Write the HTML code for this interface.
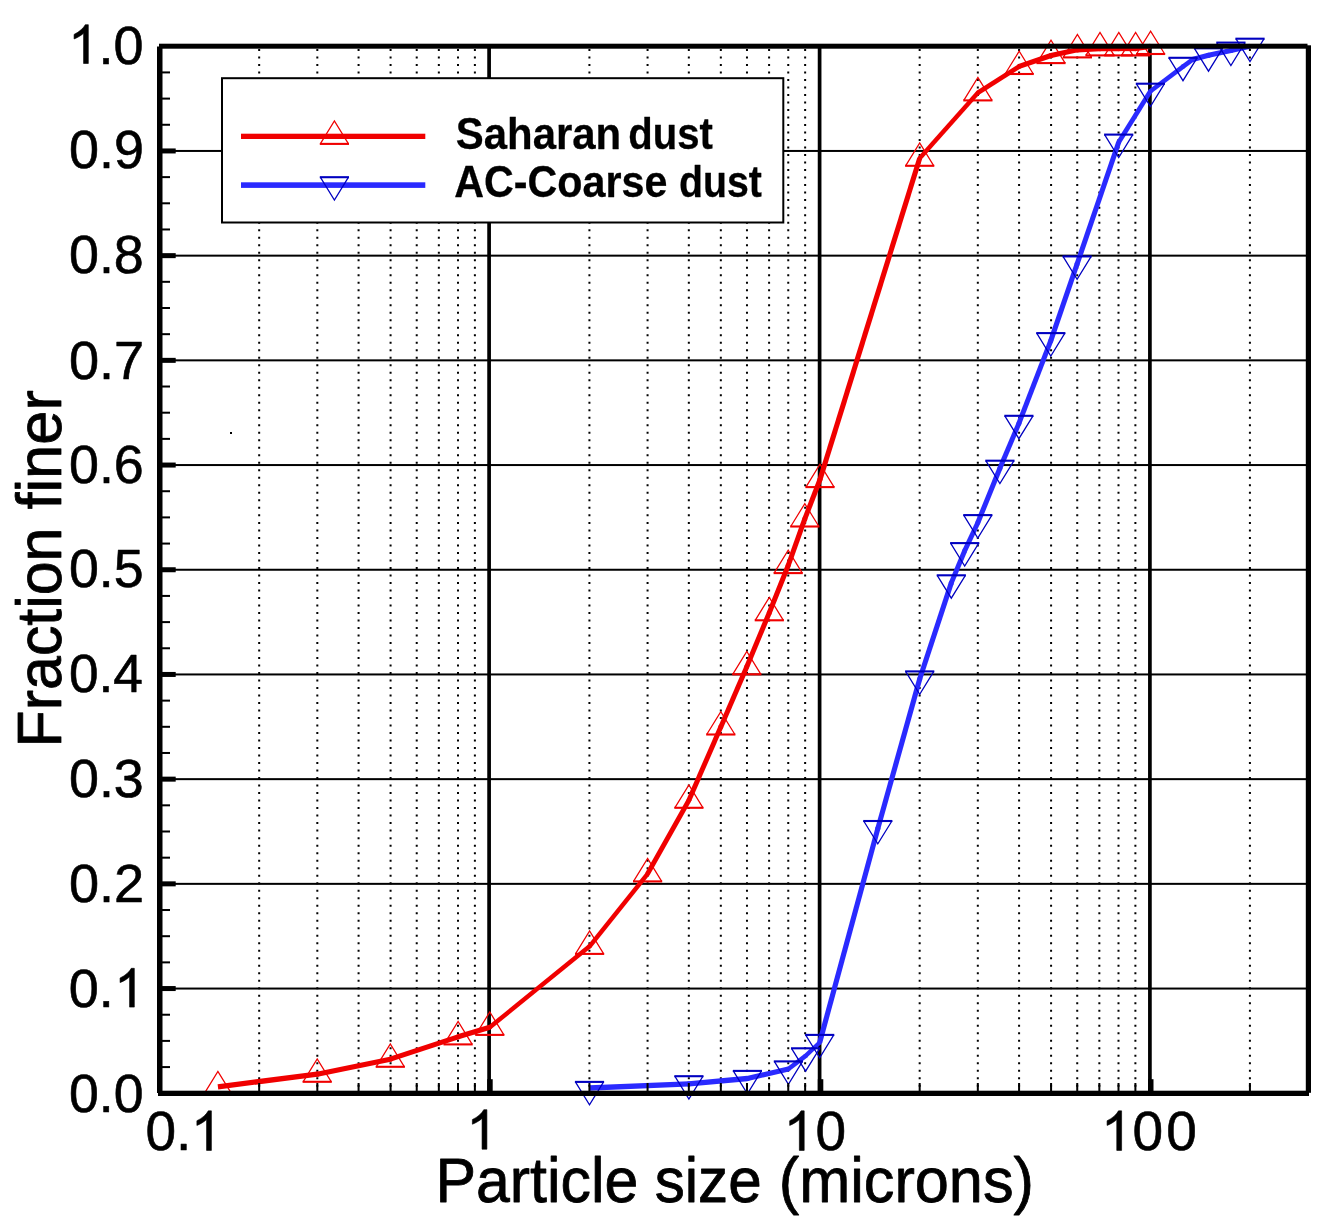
<!DOCTYPE html>
<html><head><meta charset="utf-8"><title>Particle size distribution</title>
<style>html,body{margin:0;padding:0;background:#fff;}svg{display:block;filter:blur(0.45px);}</style>
</head><body>
<svg width="1323" height="1225" viewBox="0 0 1323 1225">
<rect width="1323" height="1225" fill="#fff"/>
<g fill="#000">
<rect x="162" y="987.55" width="1145" height="2"/>
<rect x="162" y="882.85" width="1145" height="2"/>
<rect x="162" y="778.15" width="1145" height="2"/>
<rect x="162" y="673.45" width="1145" height="2"/>
<rect x="162" y="568.75" width="1145" height="2"/>
<rect x="162" y="464.05" width="1145" height="2"/>
<rect x="162" y="359.35" width="1145" height="2"/>
<rect x="162" y="254.65" width="1145" height="2"/>
<rect x="162" y="149.95" width="1145" height="2"/>
</g>
<g stroke="#000" stroke-width="2" stroke-dasharray="2 5.506">
<line x1="259.17" y1="49" x2="259.17" y2="1091"/>
<line x1="317.32" y1="49" x2="317.32" y2="1091"/>
<line x1="358.58" y1="49" x2="358.58" y2="1091"/>
<line x1="390.58" y1="49" x2="390.58" y2="1091"/>
<line x1="416.73" y1="49" x2="416.73" y2="1091"/>
<line x1="438.84" y1="49" x2="438.84" y2="1091"/>
<line x1="458.00" y1="49" x2="458.00" y2="1091"/>
<line x1="474.89" y1="49" x2="474.89" y2="1091"/>
<line x1="589.42" y1="49" x2="589.42" y2="1091"/>
<line x1="647.57" y1="49" x2="647.57" y2="1091"/>
<line x1="688.83" y1="49" x2="688.83" y2="1091"/>
<line x1="720.83" y1="49" x2="720.83" y2="1091"/>
<line x1="746.98" y1="49" x2="746.98" y2="1091"/>
<line x1="769.09" y1="49" x2="769.09" y2="1091"/>
<line x1="788.25" y1="49" x2="788.25" y2="1091"/>
<line x1="805.14" y1="49" x2="805.14" y2="1091"/>
<line x1="919.67" y1="49" x2="919.67" y2="1091"/>
<line x1="977.82" y1="49" x2="977.82" y2="1091"/>
<line x1="1019.08" y1="49" x2="1019.08" y2="1091"/>
<line x1="1051.08" y1="49" x2="1051.08" y2="1091"/>
<line x1="1077.23" y1="49" x2="1077.23" y2="1091"/>
<line x1="1099.34" y1="49" x2="1099.34" y2="1091"/>
<line x1="1118.50" y1="49" x2="1118.50" y2="1091"/>
<line x1="1135.39" y1="49" x2="1135.39" y2="1091"/>
<line x1="1249.92" y1="49" x2="1249.92" y2="1091"/>
</g>
<rect x="487.25" y="47" width="3.7" height="1045" fill="#000"/>
<rect x="817.75" y="47" width="3.7" height="1045" fill="#000"/>
<rect x="1148.05" y="47" width="3.7" height="1045" fill="#000"/>
<g stroke="#f00000" fill="#f00000"><line x1="217.9" y1="1086.8" x2="317.2" y2="1074.2" stroke-width="5.27"/><line x1="317.2" y1="1074.2" x2="390.3" y2="1059.2" stroke-width="5.22"/><line x1="390.3" y1="1059.2" x2="458.1" y2="1036.8" stroke-width="5.10"/><line x1="458.1" y1="1036.8" x2="489.8" y2="1027.3" stroke-width="5.14"/><line x1="489.8" y1="1027.3" x2="589.6" y2="946.3" stroke-width="4.51"/><line x1="589.6" y1="946.3" x2="647.6" y2="873.8" stroke-width="4.52"/><line x1="647.6" y1="873.8" x2="688.9" y2="800.2" stroke-width="4.82"/><line x1="688.9" y1="800.2" x2="720.8" y2="726.9" stroke-width="4.98"/><line x1="720.8" y1="726.9" x2="746.8" y2="666.7" stroke-width="4.99"/><line x1="746.8" y1="666.7" x2="769.3" y2="612.7" stroke-width="5.00"/><line x1="769.3" y1="612.7" x2="788.2" y2="565.5" stroke-width="5.02"/><line x1="788.2" y1="565.5" x2="804.8" y2="518.9" stroke-width="5.07"/><line x1="804.8" y1="518.9" x2="820.0" y2="479.5" stroke-width="5.04"/><line x1="820.0" y1="479.5" x2="919.7" y2="158.2" stroke-width="5.12"/><line x1="919.7" y1="158.2" x2="977.9" y2="92.8" stroke-width="4.42"/><line x1="977.9" y1="92.8" x2="1019.2" y2="66.4" stroke-width="4.72"/><line x1="1019.2" y1="66.4" x2="1051.0" y2="55.5" stroke-width="5.09"/><line x1="1051.0" y1="55.5" x2="1077.4" y2="49.8" stroke-width="5.21"/><line x1="1077.4" y1="49.8" x2="1100.0" y2="48.6" stroke-width="5.29"/><line x1="1100.0" y1="48.6" x2="1118.8" y2="48.5" stroke-width="5.30"/><line x1="1118.8" y1="48.5" x2="1135.6" y2="48.5" stroke-width="5.30"/><line x1="1135.6" y1="48.5" x2="1150.6" y2="46.4" stroke-width="5.26"/><circle cx="317.2" cy="1074.2" r="2.61" stroke="none"/><circle cx="390.3" cy="1059.2" r="2.55" stroke="none"/><circle cx="458.1" cy="1036.8" r="2.55" stroke="none"/><circle cx="489.8" cy="1027.3" r="2.25" stroke="none"/><circle cx="589.6" cy="946.3" r="2.25" stroke="none"/><circle cx="647.6" cy="873.8" r="2.26" stroke="none"/><circle cx="688.9" cy="800.2" r="2.41" stroke="none"/><circle cx="720.8" cy="726.9" r="2.49" stroke="none"/><circle cx="746.8" cy="666.7" r="2.49" stroke="none"/><circle cx="769.3" cy="612.7" r="2.50" stroke="none"/><circle cx="788.2" cy="565.5" r="2.51" stroke="none"/><circle cx="804.8" cy="518.9" r="2.52" stroke="none"/><circle cx="820.0" cy="479.5" r="2.52" stroke="none"/><circle cx="919.7" cy="158.2" r="2.21" stroke="none"/><circle cx="977.9" cy="92.8" r="2.21" stroke="none"/><circle cx="1019.2" cy="66.4" r="2.36" stroke="none"/><circle cx="1051.0" cy="55.5" r="2.54" stroke="none"/><circle cx="1077.4" cy="49.8" r="2.61" stroke="none"/><circle cx="1100.0" cy="48.6" r="2.65" stroke="none"/><circle cx="1118.8" cy="48.5" r="2.65" stroke="none"/><circle cx="1135.6" cy="48.5" r="2.63" stroke="none"/></g>
<g stroke="#2a2aff" fill="#2a2aff"><line x1="589.5" y1="1088.0" x2="688.9" y2="1083.8" stroke-width="5.30"/><line x1="688.9" y1="1083.8" x2="747.4" y2="1078.5" stroke-width="5.28"/><line x1="747.4" y1="1078.5" x2="788.4" y2="1069.0" stroke-width="5.20"/><line x1="788.4" y1="1069.0" x2="805.6" y2="1055.9" stroke-width="4.57"/><line x1="805.6" y1="1055.9" x2="819.7" y2="1042.5" stroke-width="4.35"/><line x1="819.7" y1="1042.5" x2="877.8" y2="828.6" stroke-width="5.16"/><line x1="877.8" y1="828.6" x2="919.7" y2="679.0" stroke-width="5.15"/><line x1="919.7" y1="679.0" x2="951.3" y2="582.9" stroke-width="5.10"/><line x1="951.3" y1="582.9" x2="964.7" y2="550.7" stroke-width="5.00"/><line x1="964.7" y1="550.7" x2="977.8" y2="522.7" stroke-width="4.94"/><line x1="977.8" y1="522.7" x2="999.9" y2="468.3" stroke-width="5.02"/><line x1="999.9" y1="468.3" x2="1018.9" y2="423.4" stroke-width="5.00"/><line x1="1018.9" y1="423.4" x2="1050.8" y2="340.7" stroke-width="5.04"/><line x1="1050.8" y1="340.7" x2="1077.1" y2="264.0" stroke-width="5.09"/><line x1="1077.1" y1="264.0" x2="1118.7" y2="142.2" stroke-width="5.09"/><line x1="1118.7" y1="142.2" x2="1150.4" y2="91.3" stroke-width="4.74"/><line x1="1150.4" y1="91.3" x2="1183.0" y2="66.6" stroke-width="4.57"/><line x1="1183.0" y1="66.6" x2="1192.5" y2="59.6" stroke-width="4.60"/><line x1="1192.5" y1="59.6" x2="1208.5" y2="55.3" stroke-width="5.17"/><line x1="1208.5" y1="55.3" x2="1230.9" y2="50.5" stroke-width="5.21"/><line x1="1230.9" y1="50.5" x2="1250.0" y2="46.3" stroke-width="5.21"/><circle cx="688.9" cy="1083.8" r="2.64" stroke="none"/><circle cx="747.4" cy="1078.5" r="2.60" stroke="none"/><circle cx="788.4" cy="1069.0" r="2.28" stroke="none"/><circle cx="805.6" cy="1055.9" r="2.18" stroke="none"/><circle cx="819.7" cy="1042.5" r="2.18" stroke="none"/><circle cx="877.8" cy="828.6" r="2.58" stroke="none"/><circle cx="919.7" cy="679.0" r="2.55" stroke="none"/><circle cx="951.3" cy="582.9" r="2.50" stroke="none"/><circle cx="964.7" cy="550.7" r="2.47" stroke="none"/><circle cx="977.8" cy="522.7" r="2.47" stroke="none"/><circle cx="999.9" cy="468.3" r="2.50" stroke="none"/><circle cx="1018.9" cy="423.4" r="2.50" stroke="none"/><circle cx="1050.8" cy="340.7" r="2.52" stroke="none"/><circle cx="1077.1" cy="264.0" r="2.54" stroke="none"/><circle cx="1118.7" cy="142.2" r="2.37" stroke="none"/><circle cx="1150.4" cy="91.3" r="2.29" stroke="none"/><circle cx="1183.0" cy="66.6" r="2.29" stroke="none"/><circle cx="1192.5" cy="59.6" r="2.30" stroke="none"/><circle cx="1208.5" cy="55.3" r="2.58" stroke="none"/><circle cx="1230.9" cy="50.5" r="2.60" stroke="none"/></g>
<path d="M203.8 1094.4L217.9 1071.5L232.0 1094.4" fill="none" stroke="#f00000" stroke-width="1.25"/><line x1="203.3" y1="1094.4" x2="232.5" y2="1094.4" stroke="#f00000" stroke-width="2.1"/>
<path d="M303.1 1081.8L317.2 1058.9L331.3 1081.8" fill="none" stroke="#f00000" stroke-width="1.25"/><line x1="302.6" y1="1081.8" x2="331.8" y2="1081.8" stroke="#f00000" stroke-width="2.1"/>
<path d="M376.2 1066.8L390.3 1043.9L404.4 1066.8" fill="none" stroke="#f00000" stroke-width="1.25"/><line x1="375.7" y1="1066.8" x2="404.9" y2="1066.8" stroke="#f00000" stroke-width="2.1"/>
<path d="M444.0 1044.4L458.1 1021.5L472.2 1044.4" fill="none" stroke="#f00000" stroke-width="1.25"/><line x1="443.5" y1="1044.4" x2="472.7" y2="1044.4" stroke="#f00000" stroke-width="2.1"/>
<path d="M475.7 1034.9L489.8 1012.0L503.9 1034.9" fill="none" stroke="#f00000" stroke-width="1.25"/><line x1="475.2" y1="1034.9" x2="504.4" y2="1034.9" stroke="#f00000" stroke-width="2.1"/>
<path d="M575.5 953.9L589.6 931.0L603.7 953.9" fill="none" stroke="#f00000" stroke-width="1.25"/><line x1="575.0" y1="953.9" x2="604.2" y2="953.9" stroke="#f00000" stroke-width="2.1"/>
<path d="M633.5 881.4L647.6 858.5L661.7 881.4" fill="none" stroke="#f00000" stroke-width="1.25"/><line x1="633.0" y1="881.4" x2="662.2" y2="881.4" stroke="#f00000" stroke-width="2.1"/>
<path d="M674.8 807.8L688.9 784.9L703.0 807.8" fill="none" stroke="#f00000" stroke-width="1.25"/><line x1="674.3" y1="807.8" x2="703.5" y2="807.8" stroke="#f00000" stroke-width="2.1"/>
<path d="M706.7 734.5L720.8 711.6L734.9 734.5" fill="none" stroke="#f00000" stroke-width="1.25"/><line x1="706.2" y1="734.5" x2="735.4" y2="734.5" stroke="#f00000" stroke-width="2.1"/>
<path d="M732.7 674.3L746.8 651.4L760.9 674.3" fill="none" stroke="#f00000" stroke-width="1.25"/><line x1="732.2" y1="674.3" x2="761.4" y2="674.3" stroke="#f00000" stroke-width="2.1"/>
<path d="M755.2 620.3L769.3 597.4L783.4 620.3" fill="none" stroke="#f00000" stroke-width="1.25"/><line x1="754.7" y1="620.3" x2="783.9" y2="620.3" stroke="#f00000" stroke-width="2.1"/>
<path d="M774.1 573.1L788.2 550.2L802.3 573.1" fill="none" stroke="#f00000" stroke-width="1.25"/><line x1="773.6" y1="573.1" x2="802.8" y2="573.1" stroke="#f00000" stroke-width="2.1"/>
<path d="M790.7 526.5L804.8 503.6L818.9 526.5" fill="none" stroke="#f00000" stroke-width="1.25"/><line x1="790.2" y1="526.5" x2="819.4" y2="526.5" stroke="#f00000" stroke-width="2.1"/>
<path d="M805.9 487.1L820.0 464.2L834.1 487.1" fill="none" stroke="#f00000" stroke-width="1.25"/><line x1="805.4" y1="487.1" x2="834.6" y2="487.1" stroke="#f00000" stroke-width="2.1"/>
<path d="M905.6 165.8L919.7 142.9L933.8 165.8" fill="none" stroke="#f00000" stroke-width="1.25"/><line x1="905.1" y1="165.8" x2="934.3" y2="165.8" stroke="#f00000" stroke-width="2.1"/>
<path d="M963.8 100.4L977.9 77.5L992.0 100.4" fill="none" stroke="#f00000" stroke-width="1.25"/><line x1="963.3" y1="100.4" x2="992.5" y2="100.4" stroke="#f00000" stroke-width="2.1"/>
<path d="M1005.1 74.0L1019.2 51.1L1033.3 74.0" fill="none" stroke="#f00000" stroke-width="1.25"/><line x1="1004.6" y1="74.0" x2="1033.8" y2="74.0" stroke="#f00000" stroke-width="2.1"/>
<path d="M1036.9 63.1L1051.0 40.2L1065.1 63.1" fill="none" stroke="#f00000" stroke-width="1.25"/><line x1="1036.4" y1="63.1" x2="1065.6" y2="63.1" stroke="#f00000" stroke-width="2.1"/>
<path d="M1063.3 57.4L1077.4 34.5L1091.5 57.4" fill="none" stroke="#f00000" stroke-width="1.25"/><line x1="1062.8" y1="57.4" x2="1092.0" y2="57.4" stroke="#f00000" stroke-width="2.1"/>
<path d="M1085.9 55.4L1100.0 32.5L1114.1 55.4" fill="none" stroke="#f00000" stroke-width="1.25"/><line x1="1085.4" y1="55.4" x2="1114.6" y2="55.4" stroke="#f00000" stroke-width="2.1"/>
<path d="M1104.7 55.4L1118.8 32.5L1132.9 55.4" fill="none" stroke="#f00000" stroke-width="1.25"/><line x1="1104.2" y1="55.4" x2="1133.4" y2="55.4" stroke="#f00000" stroke-width="2.1"/>
<path d="M1121.5 55.4L1135.6 32.5L1149.7 55.4" fill="none" stroke="#f00000" stroke-width="1.25"/><line x1="1121.0" y1="55.4" x2="1150.2" y2="55.4" stroke="#f00000" stroke-width="2.1"/>
<path d="M1136.5 54.0L1150.6 31.1L1164.7 54.0" fill="none" stroke="#f00000" stroke-width="1.25"/><line x1="1136.0" y1="54.0" x2="1165.2" y2="54.0" stroke="#f00000" stroke-width="2.1"/>
<path d="M575.4 1081.9L589.5 1104.8L603.6 1081.9" fill="none" stroke="#0000c0" stroke-width="1.25"/><line x1="574.9" y1="1081.9" x2="604.1" y2="1081.9" stroke="#0000c0" stroke-width="2.1"/>
<path d="M674.8 1076.2L688.9 1099.1L703.0 1076.2" fill="none" stroke="#0000c0" stroke-width="1.25"/><line x1="674.3" y1="1076.2" x2="703.5" y2="1076.2" stroke="#0000c0" stroke-width="2.1"/>
<path d="M733.3 1070.9L747.4 1093.8L761.5 1070.9" fill="none" stroke="#0000c0" stroke-width="1.25"/><line x1="732.8" y1="1070.9" x2="762.0" y2="1070.9" stroke="#0000c0" stroke-width="2.1"/>
<path d="M774.3 1061.4L788.4 1084.3L802.5 1061.4" fill="none" stroke="#0000c0" stroke-width="1.25"/><line x1="773.8" y1="1061.4" x2="803.0" y2="1061.4" stroke="#0000c0" stroke-width="2.1"/>
<path d="M791.5 1048.3L805.6 1071.2L819.7 1048.3" fill="none" stroke="#0000c0" stroke-width="1.25"/><line x1="791.0" y1="1048.3" x2="820.2" y2="1048.3" stroke="#0000c0" stroke-width="2.1"/>
<path d="M805.6 1034.9L819.7 1057.8L833.8 1034.9" fill="none" stroke="#0000c0" stroke-width="1.25"/><line x1="805.1" y1="1034.9" x2="834.3" y2="1034.9" stroke="#0000c0" stroke-width="2.1"/>
<path d="M863.7 821.0L877.8 843.9L891.9 821.0" fill="none" stroke="#0000c0" stroke-width="1.25"/><line x1="863.2" y1="821.0" x2="892.4" y2="821.0" stroke="#0000c0" stroke-width="2.1"/>
<path d="M905.6 671.4L919.7 694.3L933.8 671.4" fill="none" stroke="#0000c0" stroke-width="1.25"/><line x1="905.1" y1="671.4" x2="934.3" y2="671.4" stroke="#0000c0" stroke-width="2.1"/>
<path d="M937.2 575.3L951.3 598.2L965.4 575.3" fill="none" stroke="#0000c0" stroke-width="1.25"/><line x1="936.7" y1="575.3" x2="965.9" y2="575.3" stroke="#0000c0" stroke-width="2.1"/>
<path d="M950.6 543.1L964.7 566.0L978.8 543.1" fill="none" stroke="#0000c0" stroke-width="1.25"/><line x1="950.1" y1="543.1" x2="979.3" y2="543.1" stroke="#0000c0" stroke-width="2.1"/>
<path d="M963.7 515.1L977.8 538.0L991.9 515.1" fill="none" stroke="#0000c0" stroke-width="1.25"/><line x1="963.2" y1="515.1" x2="992.4" y2="515.1" stroke="#0000c0" stroke-width="2.1"/>
<path d="M985.8 460.7L999.9 483.6L1014.0 460.7" fill="none" stroke="#0000c0" stroke-width="1.25"/><line x1="985.3" y1="460.7" x2="1014.5" y2="460.7" stroke="#0000c0" stroke-width="2.1"/>
<path d="M1004.8 415.8L1018.9 438.7L1033.0 415.8" fill="none" stroke="#0000c0" stroke-width="1.25"/><line x1="1004.3" y1="415.8" x2="1033.5" y2="415.8" stroke="#0000c0" stroke-width="2.1"/>
<path d="M1036.7 333.1L1050.8 356.0L1064.9 333.1" fill="none" stroke="#0000c0" stroke-width="1.25"/><line x1="1036.2" y1="333.1" x2="1065.4" y2="333.1" stroke="#0000c0" stroke-width="2.1"/>
<path d="M1063.0 256.4L1077.1 279.3L1091.2 256.4" fill="none" stroke="#0000c0" stroke-width="1.25"/><line x1="1062.5" y1="256.4" x2="1091.7" y2="256.4" stroke="#0000c0" stroke-width="2.1"/>
<path d="M1104.6 134.6L1118.7 157.5L1132.8 134.6" fill="none" stroke="#0000c0" stroke-width="1.25"/><line x1="1104.1" y1="134.6" x2="1133.3" y2="134.6" stroke="#0000c0" stroke-width="2.1"/>
<path d="M1136.3 83.7L1150.4 106.6L1164.5 83.7" fill="none" stroke="#0000c0" stroke-width="1.25"/><line x1="1135.8" y1="83.7" x2="1165.0" y2="83.7" stroke="#0000c0" stroke-width="2.1"/>
<path d="M1168.9 57.8L1183.0 80.7L1197.1 57.8" fill="none" stroke="#0000c0" stroke-width="1.25"/><line x1="1168.4" y1="57.8" x2="1197.6" y2="57.8" stroke="#0000c0" stroke-width="2.1"/>
<path d="M1194.4 48.3L1208.5 71.2L1222.6 48.3" fill="none" stroke="#0000c0" stroke-width="1.25"/><line x1="1193.9" y1="48.3" x2="1223.1" y2="48.3" stroke="#0000c0" stroke-width="2.1"/>
<path d="M1216.8 42.6L1230.9 65.5L1245.0 42.6" fill="none" stroke="#0000c0" stroke-width="1.25"/><line x1="1216.3" y1="42.6" x2="1245.5" y2="42.6" stroke="#0000c0" stroke-width="2.1"/>
<path d="M1235.9 38.7L1250.0 61.6L1264.1 38.7" fill="none" stroke="#0000c0" stroke-width="1.25"/><line x1="1235.4" y1="38.7" x2="1264.6" y2="38.7" stroke="#0000c0" stroke-width="2.1"/>
<g fill="#000">
<rect x="159" y="43.7" width="1148.5" height="5"/>
<rect x="157" y="46.5" width="5.5" height="1046.5"/>
<rect x="1305.8" y="45.3" width="5.2" height="1047.5"/>
<rect x="158" y="1090.7" width="1151" height="5.3"/>
<rect x="162" y="1066.08" width="8" height="2"/>
<rect x="162" y="1039.90" width="8" height="2"/>
<rect x="162" y="1013.73" width="8" height="2"/>
<rect x="162" y="986.05" width="13.7" height="5"/>
<rect x="162" y="961.38" width="8" height="2"/>
<rect x="162" y="935.20" width="8" height="2"/>
<rect x="162" y="909.02" width="8" height="2"/>
<rect x="162" y="881.35" width="13.7" height="5"/>
<rect x="162" y="856.67" width="8" height="2"/>
<rect x="162" y="830.50" width="8" height="2"/>
<rect x="162" y="804.33" width="8" height="2"/>
<rect x="162" y="776.65" width="13.7" height="5"/>
<rect x="162" y="751.97" width="8" height="2"/>
<rect x="162" y="725.80" width="8" height="2"/>
<rect x="162" y="699.62" width="8" height="2"/>
<rect x="162" y="671.95" width="13.7" height="5"/>
<rect x="162" y="647.27" width="8" height="2"/>
<rect x="162" y="621.10" width="8" height="2"/>
<rect x="162" y="594.92" width="8" height="2"/>
<rect x="162" y="567.25" width="13.7" height="5"/>
<rect x="162" y="542.57" width="8" height="2"/>
<rect x="162" y="516.40" width="8" height="2"/>
<rect x="162" y="490.22" width="8" height="2"/>
<rect x="162" y="462.55" width="13.7" height="5"/>
<rect x="162" y="437.88" width="8" height="2"/>
<rect x="162" y="411.70" width="8" height="2"/>
<rect x="162" y="385.52" width="8" height="2"/>
<rect x="162" y="357.85" width="13.7" height="5"/>
<rect x="162" y="333.17" width="8" height="2"/>
<rect x="162" y="307.00" width="8" height="2"/>
<rect x="162" y="280.82" width="8" height="2"/>
<rect x="162" y="253.15" width="13.7" height="5"/>
<rect x="162" y="228.47" width="8" height="2"/>
<rect x="162" y="202.30" width="8" height="2"/>
<rect x="162" y="176.12" width="8" height="2"/>
<rect x="162" y="148.45" width="13.7" height="5"/>
<rect x="162" y="123.77" width="8" height="2"/>
<rect x="162" y="97.60" width="8" height="2"/>
<rect x="162" y="71.42" width="8" height="2"/>
<rect x="258.17" y="1083" width="2" height="8"/>
<rect x="316.32" y="1083" width="2" height="8"/>
<rect x="357.58" y="1083" width="2" height="8"/>
<rect x="389.58" y="1083" width="2" height="8"/>
<rect x="415.73" y="1083" width="2" height="8"/>
<rect x="437.84" y="1083" width="2" height="8"/>
<rect x="457.00" y="1083" width="2" height="8"/>
<rect x="473.89" y="1083" width="2" height="8"/>
<rect x="588.42" y="1083" width="2" height="8"/>
<rect x="646.57" y="1083" width="2" height="8"/>
<rect x="687.83" y="1083" width="2" height="8"/>
<rect x="719.83" y="1083" width="2" height="8"/>
<rect x="745.98" y="1083" width="2" height="8"/>
<rect x="768.09" y="1083" width="2" height="8"/>
<rect x="787.25" y="1083" width="2" height="8"/>
<rect x="804.14" y="1083" width="2" height="8"/>
<rect x="918.67" y="1083" width="2" height="8"/>
<rect x="976.82" y="1083" width="2" height="8"/>
<rect x="1018.08" y="1083" width="2" height="8"/>
<rect x="1050.08" y="1083" width="2" height="8"/>
<rect x="1076.23" y="1083" width="2" height="8"/>
<rect x="1098.34" y="1083" width="2" height="8"/>
<rect x="1117.50" y="1083" width="2" height="8"/>
<rect x="1134.39" y="1083" width="2" height="8"/>
<rect x="1248.92" y="1083" width="2" height="8"/>
<rect x="487.20" y="1079.2" width="5.5" height="12"/>
<rect x="817.80" y="1079.2" width="5.5" height="12"/>
<rect x="1148.00" y="1079.2" width="5.5" height="12"/>
</g>
<rect x="222" y="78.2" width="561.3" height="144.3" fill="#fff" stroke="#000" stroke-width="2"/>
<rect x="241" y="133.7" width="184.3" height="5.3" fill="#f00000"/>
<rect x="241" y="182.3" width="184.3" height="5.6" fill="#2a2aff"/>
<path d="M320.3 143.9L334.4 121.0L348.5 143.9" fill="none" stroke="#f00000" stroke-width="1.25"/><line x1="319.8" y1="143.9" x2="349.0" y2="143.9" stroke="#f00000" stroke-width="2.1"/>
<path d="M320.3 177.2L334.4 200.1L348.5 177.2" fill="none" stroke="#0000c0" stroke-width="1.25"/><line x1="319.8" y1="177.2" x2="349.0" y2="177.2" stroke="#0000c0" stroke-width="2.1"/>
<defs><filter id="nf" x="0" y="0" width="100%" height="100%" filterUnits="objectBoundingBox"><feOffset dx="0" dy="0"/></filter></defs><g filter="url(#nf)">
<text x="455.79" y="148.50" font-family="Liberation Sans, sans-serif" font-weight="bold" font-size="45" textLength="165.43" lengthAdjust="spacingAndGlyphs" stroke="#000" stroke-width="0.3" stroke-linejoin="round">Saharan</text>
<text x="628.35" y="148.50" font-family="Liberation Sans, sans-serif" font-weight="bold" font-size="45" textLength="84.64" lengthAdjust="spacingAndGlyphs" stroke="#000" stroke-width="0.3" stroke-linejoin="round">dust</text>
<text x="454.22" y="196.80" font-family="Liberation Sans, sans-serif" font-weight="bold" font-size="45" textLength="213.10" lengthAdjust="spacingAndGlyphs" stroke="#000" stroke-width="0.3" stroke-linejoin="round">AC-Coarse</text>
<text x="678.98" y="196.80" font-family="Liberation Sans, sans-serif" font-weight="bold" font-size="45" textLength="82.90" lengthAdjust="spacingAndGlyphs" stroke="#000" stroke-width="0.3" stroke-linejoin="round">dust</text>
</g>
<path transform="translate(68.20 63.50) scale(0.02637 -0.02637)" d="M763 0H583V1147Q518 1085 412.5 1023Q307 961 223 930V1104Q374 1175 487 1276Q600 1377 647 1472H763Z" fill="#000" stroke="#000" stroke-width="22.8" stroke-linejoin="round"/>
<text x="98.40" y="63.50" font-family="Liberation Sans, sans-serif" font-size="54" stroke="#000" stroke-width="0.6" stroke-linejoin="round">.0</text>
<text x="68.94" y="168.28" font-family="Liberation Sans, sans-serif" font-size="54" textLength="75.00" lengthAdjust="spacingAndGlyphs" stroke="#000" stroke-width="0.6" stroke-linejoin="round">0.9</text>
<text x="68.95" y="273.46" font-family="Liberation Sans, sans-serif" font-size="54" textLength="74.85" lengthAdjust="spacingAndGlyphs" stroke="#000" stroke-width="0.6" stroke-linejoin="round">0.8</text>
<text x="68.93" y="378.64" font-family="Liberation Sans, sans-serif" font-size="54" textLength="75.28" lengthAdjust="spacingAndGlyphs" stroke="#000" stroke-width="0.6" stroke-linejoin="round">0.7</text>
<text x="68.95" y="483.42" font-family="Liberation Sans, sans-serif" font-size="54" textLength="74.85" lengthAdjust="spacingAndGlyphs" stroke="#000" stroke-width="0.6" stroke-linejoin="round">0.6</text>
<text x="68.95" y="586.80" font-family="Liberation Sans, sans-serif" font-size="54" textLength="74.71" lengthAdjust="spacingAndGlyphs" stroke="#000" stroke-width="0.6" stroke-linejoin="round">0.5</text>
<text x="68.97" y="691.88" font-family="Liberation Sans, sans-serif" font-size="54" textLength="74.00" lengthAdjust="spacingAndGlyphs" stroke="#000" stroke-width="0.6" stroke-linejoin="round">0.4</text>
<text x="68.95" y="796.76" font-family="Liberation Sans, sans-serif" font-size="54" textLength="74.85" lengthAdjust="spacingAndGlyphs" stroke="#000" stroke-width="0.6" stroke-linejoin="round">0.3</text>
<text x="68.93" y="901.94" font-family="Liberation Sans, sans-serif" font-size="54" textLength="75.28" lengthAdjust="spacingAndGlyphs" stroke="#000" stroke-width="0.6" stroke-linejoin="round">0.2</text>
<text x="68.80" y="1007.12" font-family="Liberation Sans, sans-serif" font-size="54" stroke="#000" stroke-width="0.6" stroke-linejoin="round">0.</text>
<path transform="translate(114.20 1007.12) scale(0.02637 -0.02637)" d="M763 0H583V1147Q518 1085 412.5 1023Q307 961 223 930V1104Q374 1175 487 1276Q600 1377 647 1472H763Z" fill="#000" stroke="#000" stroke-width="22.8" stroke-linejoin="round"/>
<text x="68.95" y="1112.30" font-family="Liberation Sans, sans-serif" font-size="54" textLength="74.57" lengthAdjust="spacingAndGlyphs" stroke="#000" stroke-width="0.6" stroke-linejoin="round">0.0</text>
<text x="145.40" y="1150.40" font-family="Liberation Sans, sans-serif" font-size="55" stroke="#000" stroke-width="0.6" stroke-linejoin="round">0.</text>
<path transform="translate(190.90 1150.40) scale(0.02686 -0.02686)" d="M763 0H583V1147Q518 1085 412.5 1023Q307 961 223 930V1104Q374 1175 487 1276Q600 1377 647 1472H763Z" fill="#000" stroke="#000" stroke-width="22.3" stroke-linejoin="round"/>
<path transform="translate(466.40 1149.20) scale(0.02686 -0.02686)" d="M763 0H583V1147Q518 1085 412.5 1023Q307 961 223 930V1104Q374 1175 487 1276Q600 1377 647 1472H763Z" fill="#000" stroke="#000" stroke-width="22.3" stroke-linejoin="round"/>
<path transform="translate(783.70 1150.40) scale(0.02686 -0.02686)" d="M763 0H583V1147Q518 1085 412.5 1023Q307 961 223 930V1104Q374 1175 487 1276Q600 1377 647 1472H763Z" fill="#000" stroke="#000" stroke-width="22.3" stroke-linejoin="round"/>
<text x="815.40" y="1150.40" font-family="Liberation Sans, sans-serif" font-size="55" stroke="#000" stroke-width="0.6" stroke-linejoin="round">0</text>
<path transform="translate(1101.10 1150.40) scale(0.02686 -0.02686)" d="M763 0H583V1147Q518 1085 412.5 1023Q307 961 223 930V1104Q374 1175 487 1276Q600 1377 647 1472H763Z" fill="#000" stroke="#000" stroke-width="22.3" stroke-linejoin="round"/>
<text x="1132.40" y="1150.40" font-family="Liberation Sans, sans-serif" font-size="55" stroke="#000" stroke-width="0.6" stroke-linejoin="round">0</text>
<text x="1166.20" y="1150.40" font-family="Liberation Sans, sans-serif" font-size="55" stroke="#000" stroke-width="0.6" stroke-linejoin="round">0</text>
<text x="435.48" y="1202.40" font-family="Liberation Sans, sans-serif" font-size="63.5" textLength="202.83" lengthAdjust="spacingAndGlyphs" stroke="#000" stroke-width="0.8" stroke-linejoin="round">Particle</text>
<text x="654.64" y="1202.40" font-family="Liberation Sans, sans-serif" font-size="63.5" textLength="107.07" lengthAdjust="spacingAndGlyphs" stroke="#000" stroke-width="0.8" stroke-linejoin="round">size</text>
<text x="778.77" y="1202.40" font-family="Liberation Sans, sans-serif" font-size="63.5" textLength="255.15" lengthAdjust="spacingAndGlyphs" stroke="#000" stroke-width="0.8" stroke-linejoin="round">(microns)</text>
<g transform="translate(60.9 742.8) rotate(-90)"><text x="-4.62" y="0.00" font-family="Liberation Sans, sans-serif" font-size="63.5" textLength="219.87" lengthAdjust="spacingAndGlyphs" stroke="#000" stroke-width="0.8" stroke-linejoin="round">Fraction</text></g>
<g transform="translate(60.9 509.1) rotate(-90)"><text x="-0.52" y="0.00" font-family="Liberation Sans, sans-serif" font-size="63.5" textLength="119.57" lengthAdjust="spacingAndGlyphs" stroke="#000" stroke-width="0.8" stroke-linejoin="round">finer</text></g>
<rect x="230" y="432" width="2" height="2" fill="#000"/>
</svg>
</body></html>
